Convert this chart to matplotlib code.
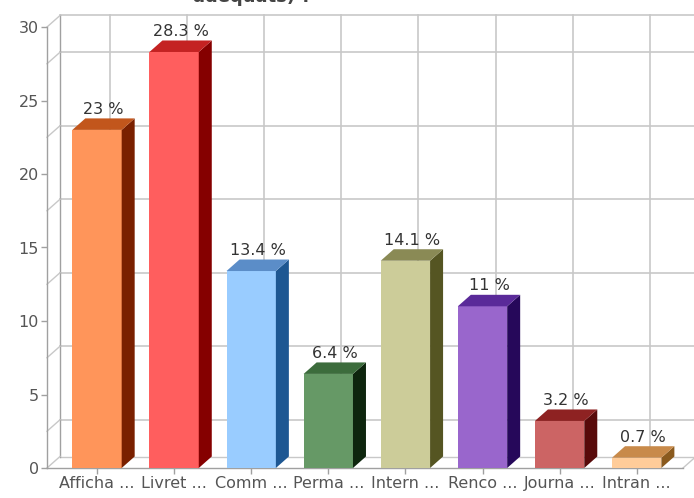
import matplotlib
matplotlib.use("Agg")
import matplotlib.pyplot as plt
from matplotlib.patches import Polygon

categories = ["Afficha ...", "Livret ...", "Comm ...", "Perma ...",
              "Intern ...", "Renco ...", "Journa ...", "Intran ..."]
values = [23, 28.3, 13.4, 6.4, 14.1, 11, 3.2, 0.7]
front_colors = ["#FF955A", "#FF5E5E", "#99CCFF", "#669966",
                "#CCCC99", "#9966CC", "#CC6464", "#FFCC99"]
side_colors = ["#7A2000", "#850000", "#1E5792", "#0E260E",
               "#555522", "#26085A", "#580A0A", "#8A5A1E"]
top_colors = ["#C2561C", "#C42222", "#5B8DC8", "#3C6C3C",
              "#8A8A55", "#5A2A99", "#8E2222", "#C88A4A"]
yticks = [0, 5, 10, 15, 20, 25, 30]
title_tail = "adéquats) ?"

W, H = 694, 498
fig = plt.figure(figsize=(W / 100, H / 100), dpi=100)
fig.patch.set_facecolor("white")

left_px, right_px, bottom_px, top_px = 47, 683, 468, 27
ax = fig.add_axes([left_px / W, 1 - bottom_px / H,
                   (right_px - left_px) / W, (bottom_px - top_px) / H])
xlo, xhi = -0.6485, 7.6005
ax.set_xlim(xlo, xhi)
ax.set_ylim(0, 30)
ax.set_facecolor("none")

ddx = 13 / 77.1
ddy = 11.5 / 14.7
grid_c = "#C8C8C8"
axis_c = "#A0A0A0"

# back wall
grid_vals = [2.5, 7.5, 12.5, 17.5, 22.5, 27.5]
xr = xhi + ddx + 0.2
for v in grid_vals + [30]:
    ax.plot([xlo + ddx, xr], [v + ddy, v + ddy], color=grid_c, lw=1.2,
            clip_on=False, zorder=1)
ax.plot([xlo + ddx, xr], [ddy, ddy], color=grid_c, lw=1.0, clip_on=False, zorder=1)
ax.plot([xlo + ddx, xlo + ddx], [ddy, 30 + ddy], color=axis_c, lw=1.0,
        clip_on=False, zorder=1)
xs = list(range(len(categories)))
for x in xs:
    ax.plot([x + ddx, x + ddx], [ddy, 30 + ddy], color=grid_c, lw=1.2,
            clip_on=False, zorder=1)
# left wall diagonals
for v in [0] + grid_vals + [30]:
    ax.plot([xlo, xlo + ddx], [v, v + ddy], color=grid_c, lw=1.0,
            clip_on=False, zorder=1)
ax.plot([xhi, xhi + ddx], [0, ddy], color=grid_c, lw=1.0, clip_on=False, zorder=1)

# bars
bw = 0.64
ax.bar(xs, values, width=bw, color=front_colors, edgecolor="none", zorder=3)
for x, v, sc, tc in zip(xs, values, side_colors, top_colors):
    r = x + bw / 2
    l = x - bw / 2
    side = Polygon([(r, 0), (r + ddx, ddy), (r + ddx, v + ddy), (r, v)],
                   closed=True, facecolor=sc, edgecolor="none", zorder=3)
    top = Polygon([(l, v), (r, v), (r + ddx, v + ddy), (l + ddx, v + ddy)],
                  closed=True, facecolor=tc, edgecolor="none", zorder=3)
    ax.add_patch(side)
    ax.add_patch(top)
    ax.text(x + ddx / 2, v + ddy + 0.1, f"{v:g} %", ha="center", va="bottom",
            fontsize=11.5, color="#333333", zorder=5)

# axes styling
for s in ["top", "right"]:
    ax.spines[s].set_visible(False)
for s in ["left", "bottom"]:
    ax.spines[s].set_color(axis_c)
    ax.spines[s].set_linewidth(1.0)
ax.set_yticks(yticks)
ax.set_yticklabels([str(t) for t in yticks])
ax.set_xticks(xs)
ax.set_xticklabels(categories)
ax.tick_params(axis="both", colors=axis_c, labelcolor="#555555",
               labelsize=11.5, length=4, width=1)
ax.tick_params(axis="x", pad=2)
ax.tick_params(axis="y", pad=2)

fig.text(252 / W, 1 - 2 / H, title_tail, ha="center", va="baseline",
         fontsize=13, fontweight="bold", color="#444444")

fig.savefig("out.png", dpi=100, facecolor="white")
